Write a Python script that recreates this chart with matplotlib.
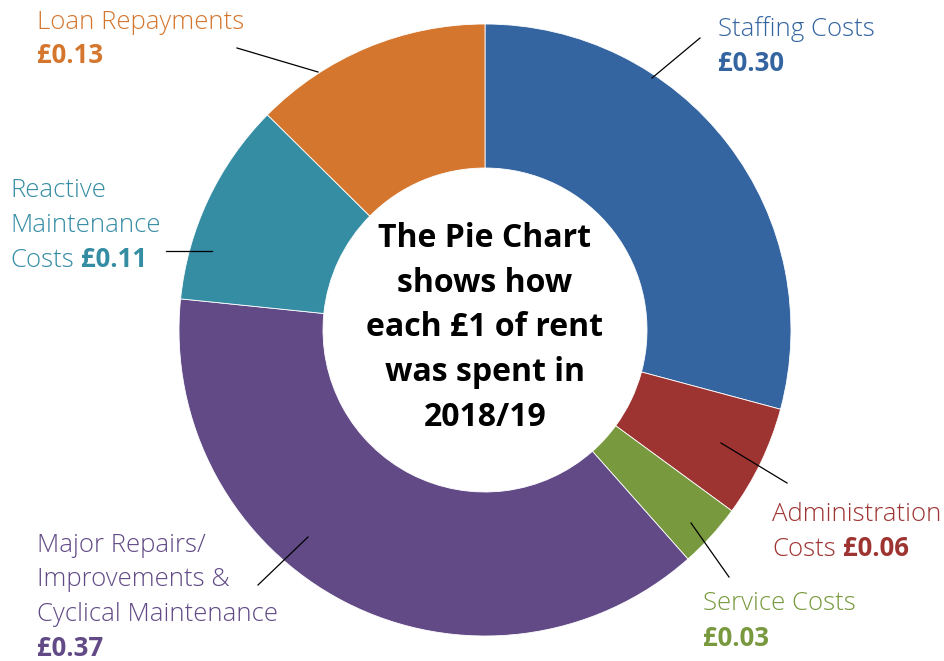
import matplotlib.pyplot as plt

plt.rcParams['font.family'] = ['Open Sans', 'DejaVu Sans']

# ----- data -----
CATEGORIES = ['Staffing Costs', 'Administration Costs', 'Service Costs',
              'Major Repairs/ Improvements & Cyclical Maintenance',
              'Reactive Maintenance Costs', 'Loan Repayments']
# slice shares as measured from the wedge angles
SHARES = [0.292, 0.059, 0.034, 0.382, 0.108, 0.126]
AMOUNTS = ['£0.30', '£0.06', '£0.03', '£0.37', '£0.11', '£0.13']
COLOURS = ['#3465A0', '#9E3432', '#78993E', '#614A85', '#358DA4', '#D5762E']

W, H = 944, 661
fig = plt.figure(figsize=(W / 100, H / 100), dpi=100)
ax = fig.add_axes([0, 0, 1, 1])

CX, CY, R_OUT, R_IN = 485, H - 330, 306, 162

ax.pie(SHARES, colors=COLOURS, startangle=90, counterclock=False,
       center=(CX, CY), radius=R_OUT, frame=True,
       wedgeprops=dict(width=R_OUT - R_IN, edgecolor='white', linewidth=0.6))
ax.set_xlim(0, W)
ax.set_ylim(0, H)
ax.set_aspect('equal')
ax.axis('off')

# centre text
ax.text(CX, CY + 2, 'The Pie Chart\nshows how\neach £1 of rent\nwas spent in\n2018/19',
        ha='center', va='center', fontsize=23, fontweight='bold', color='black',
        linespacing=1.47)

renderer = fig.canvas.get_renderer()
LABEL_SIZE = 18.5


def label(x, y_top, lines, colour, step=35):
    # lines: list of (regular_text, bold_text); y given in pixels from top
    for i, (reg, bold) in enumerate(lines):
        yb = H - (y_top + i * step)
        xx = x
        if reg:
            t = ax.text(xx, yb, reg, fontsize=LABEL_SIZE, fontweight='light',
                        color=colour, va='baseline', ha='left')
            bb = t.get_window_extent(renderer)
            xx = bb.x1 + 7
        if bold:
            ax.text(xx, yb, bold, fontsize=LABEL_SIZE, fontweight='bold',
                    color=colour, va='baseline', ha='left')


def leader(p0, p1):
    ax.plot([p0[0], p1[0]], [H - p0[1], H - p1[1]], color='black', lw=0.9)


# staffing
label(718, 36, [(CATEGORIES[0], ''), ('', AMOUNTS[0])], COLOURS[0])
leader((700, 38), (652, 78))
# administration
label(772, 521, [('Administration', ''), ('Costs', AMOUNTS[1])], COLOURS[1])
leader((787, 483), (721, 443))
# service
label(703, 610, [(CATEGORIES[2], ''), ('', AMOUNTS[2])], COLOURS[2], step=36)
leader((729, 577), (691, 523))
# major repairs
label(37, 552, [('Major Repairs/', ''), ('Improvements &', ''),
                ('Cyclical Maintenance', ''), ('', AMOUNTS[3])], COLOURS[3], step=34.5)
leader((258, 585), (308, 537))
# reactive
label(10, 197, [('Reactive', ''), ('Maintenance', ''), ('Costs', AMOUNTS[4])], COLOURS[4])
leader((166, 251), (212, 251))
# loan
label(37, 29, [(CATEGORIES[5], ''), ('', AMOUNTS[5])], COLOURS[5], step=34)
leader((237, 48), (318, 72))

fig.savefig('out.png', dpi=100)
